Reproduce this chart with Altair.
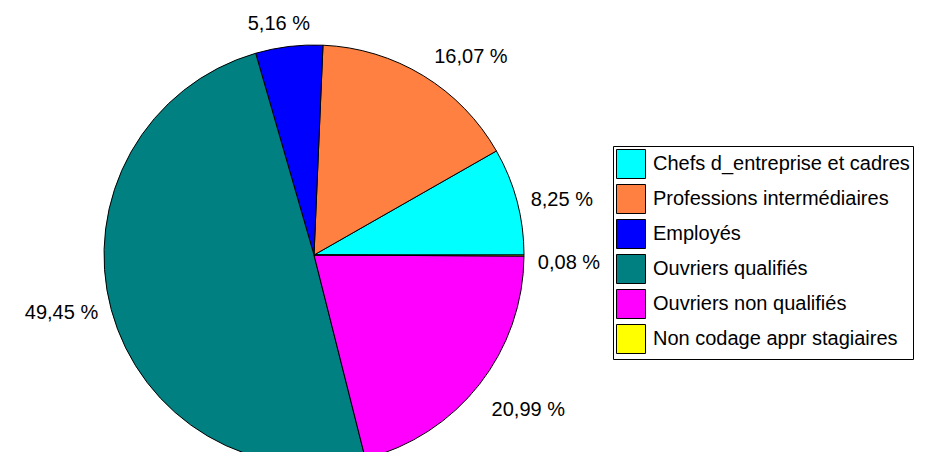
import math
import altair as alt
import pandas as pd

categories = [
    "Chefs d_entreprise et cadres",
    "Professions intermédiaires",
    "Employés",
    "Ouvriers qualifiés",
    "Ouvriers non qualifiés",
    "Non codage appr stagiaires",
]
values = [8.25, 16.07, 5.16, 49.45, 20.99, 0.08]
colors = ["#00FFFF", "#FF8040", "#0000FF", "#008080", "#FF00FF", "#FFFF00"]

df = pd.DataFrame({"cat": categories, "value": values, "idx": list(range(len(values)))})

FONT = "Liberation Sans"
CX, CY, R = 306, 247, 210

color = alt.Color(
    "cat:N",
    sort=categories,
    scale=alt.Scale(domain=categories, range=colors),
    legend=alt.Legend(
        title=None,
        orient="none",
        legendX=605,
        legendY=138,
        symbolType="square",
        symbolSize=841,
        symbolStrokeColor="black",
        symbolStrokeWidth=1,
        symbolOpacity=1,
        labelFont=FONT,
        labelFontSize=20,
        labelColor="black",
        labelOffset=7,
        labelLimit=500,
        rowPadding=1,
        padding=3,
        strokeColor="black",
        fillColor="white",
    ),
)

pie = alt.Chart(df).mark_arc(radius=R, stroke="black", strokeWidth=1).encode(
    theta=alt.Theta(
        "value:Q",
        stack=True,
        scale=alt.Scale(range=[2.5 * math.pi, 0.5 * math.pi]),
    ),
    color=color,
    order=alt.Order("idx:Q"),
    x=alt.value(CX),
    y=alt.value(CY),
)

labels = (
    alt.Chart(df)
    .transform_window(cum="sum(value)", sort=[alt.SortField("idx")])
    .transform_joinaggregate(total="sum(value)")
    .transform_calculate(
        a="2*PI*(datum.cum - datum.value/2)/datum.total",
        lab="replace(format(datum.value, '.2f'), '.', ',') + ' %'",
    )
    .transform_calculate(hw="5*length(datum.lab) - 2")
    .transform_calculate(
        lx=f"{CX} + 215*cos(datum.a) + (12 + datum.hw)*clamp(2*cos(datum.a), -1, 1)",
        ly=f"{CY} - 240*sin(datum.a) + 7 - 12*max(0, -cos(datum.a))*max(0, -sin(datum.a))/0.25",
    )
    .mark_text(font=FONT, fontSize=20, color="black", align="center", baseline="middle")
    .encode(
        x=alt.X("lx:Q", scale=None, axis=None),
        y=alt.Y("ly:Q", scale=None, axis=None),
        text="lab:N",
    )
)

chart = (
    alt.layer(pie, labels)
    .properties(
        width=914,
        height=444,
        autosize=alt.AutoSizeParams(type="none"),
        padding=0,
        background="white",
    )
    .configure_view(strokeWidth=0)
)

chart.save("out.html", embed_options={"renderer": "svg", "actions": False})
